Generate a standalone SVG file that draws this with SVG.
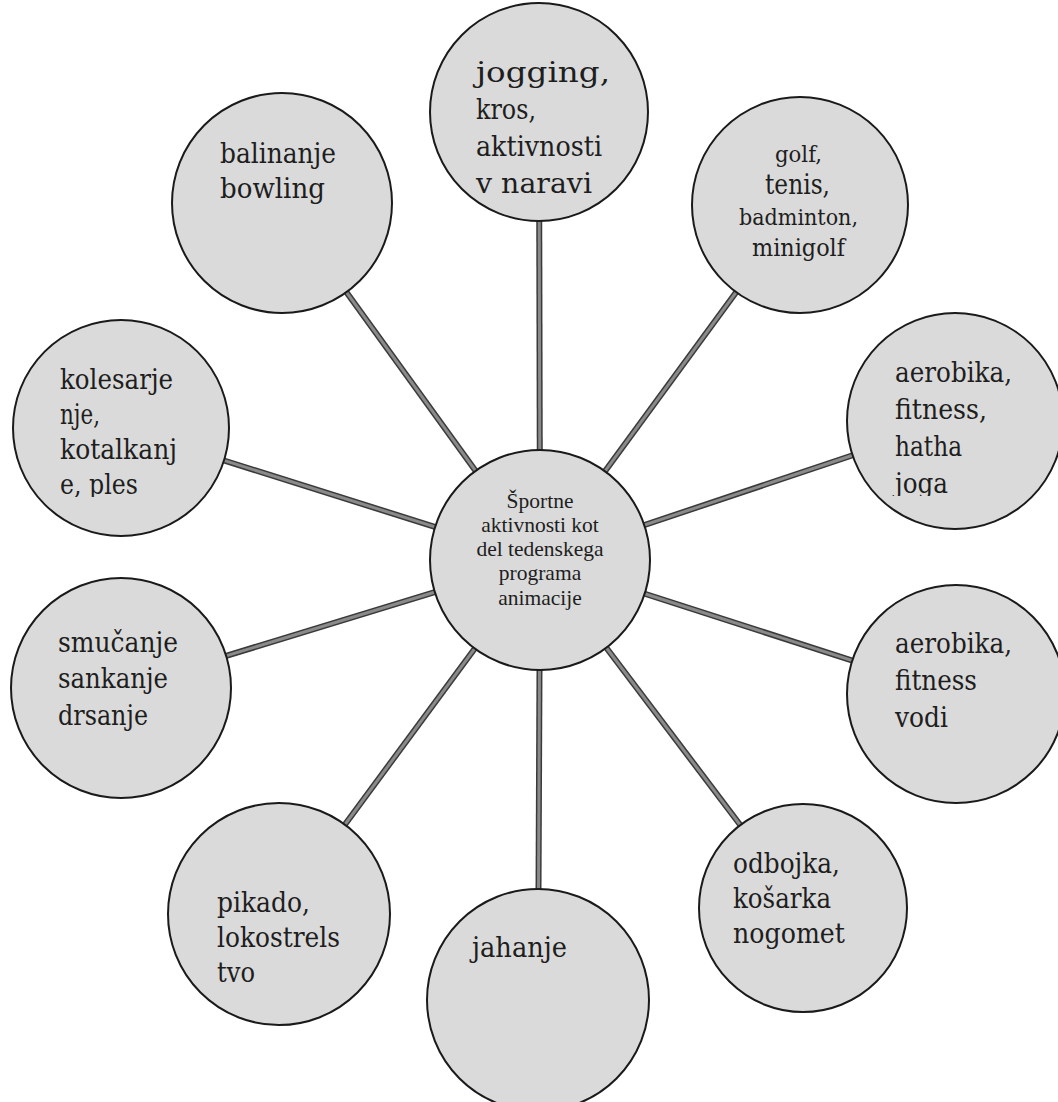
<svg xmlns="http://www.w3.org/2000/svg" width="1058" height="1102" viewBox="0 0 1058 1102">
<style>
  .node circle { fill: #dadada; stroke: #1a1a1a; stroke-width: 2; }
  text { fill: #1e1e1e; }
  .lbl text { font-family: 'DejaVu Serif', 'Liberation Serif', serif; font-size: 27px; }
  .hub text { font-family: 'Liberation Serif', serif; font-size: 21.5px; text-anchor: middle; }
  .c-out { stroke: #3a3a3a; stroke-width: 6; stroke-linecap: butt; }
  .c-in { stroke: #8a8a8a; stroke-width: 3; stroke-linecap: butt; }
</style>
<defs>
  <clipPath id="clipKol"><rect x="0" y="300" width="260" height="197"/></clipPath>
  <clipPath id="clipHatha"><rect x="840" y="300" width="218" height="196"/></clipPath>
</defs>
<rect width="1058" height="1102" fill="#ffffff"/>

<g id="connectors">
  <g class="c-out">
    <line x1="540" y1="560" x2="539" y2="112"/>
    <line x1="540" y1="560" x2="282" y2="203"/>
    <line x1="540" y1="560" x2="800" y2="205"/>
    <line x1="540" y1="560" x2="121" y2="428"/>
    <line x1="540" y1="560" x2="955" y2="421"/>
    <line x1="540" y1="560" x2="121" y2="688"/>
    <line x1="540" y1="560" x2="956" y2="694"/>
    <line x1="540" y1="560" x2="279" y2="914"/>
    <line x1="540" y1="560" x2="538" y2="1000"/>
    <line x1="540" y1="560" x2="803" y2="908"/>
  </g>
  <g class="c-in">
    <line x1="540" y1="560" x2="539" y2="112"/>
    <line x1="540" y1="560" x2="282" y2="203"/>
    <line x1="540" y1="560" x2="800" y2="205"/>
    <line x1="540" y1="560" x2="121" y2="428"/>
    <line x1="540" y1="560" x2="955" y2="421"/>
    <line x1="540" y1="560" x2="121" y2="688"/>
    <line x1="540" y1="560" x2="956" y2="694"/>
    <line x1="540" y1="560" x2="279" y2="914"/>
    <line x1="540" y1="560" x2="538" y2="1000"/>
    <line x1="540" y1="560" x2="803" y2="908"/>
  </g>
</g>

<g id="node-hub" class="node hub">
  <circle cx="540" cy="560" r="110"/>
  <text x="540" y="508">Športne</text>
  <text x="540" y="532">aktivnosti kot</text>
  <text x="540" y="556">del tedenskega</text>
  <text x="540" y="580">programa</text>
  <text x="540" y="605">animacije</text>
</g>

<g id="node-jogging" class="node lbl">
  <circle cx="539" cy="112" r="109"/>
  <text x="476" y="82" textLength="134" lengthAdjust="spacingAndGlyphs">jogging,</text>
  <text x="476" y="119" textLength="60" lengthAdjust="spacingAndGlyphs">kros,</text>
  <text x="476" y="156" textLength="126" lengthAdjust="spacingAndGlyphs">aktivnosti</text>
  <text x="476" y="193" textLength="116" lengthAdjust="spacingAndGlyphs">v naravi</text>
</g>

<g id="node-balinanje" class="node lbl">
  <circle cx="282" cy="203" r="110"/>
  <text x="220" y="163" textLength="116" lengthAdjust="spacingAndGlyphs">balinanje</text>
  <text x="220" y="198" textLength="105" lengthAdjust="spacingAndGlyphs">bowling</text>
</g>

<g id="node-golf" class="node lbl">
  <circle cx="800" cy="205" r="108"/>
  <text x="775" y="162" style="font-size:23px" textLength="47" lengthAdjust="spacingAndGlyphs">golf,</text>
  <text x="765" y="194" style="font-size:27px" textLength="65" lengthAdjust="spacingAndGlyphs">tenis,</text>
  <text x="739" y="225" style="font-size:22px" textLength="119" lengthAdjust="spacingAndGlyphs">badminton,</text>
  <text x="752" y="256" style="font-size:24px" textLength="93" lengthAdjust="spacingAndGlyphs">minigolf</text>
</g>

<g id="node-kolesarjenje" class="node lbl">
  <circle cx="121" cy="428" r="108"/>
  <g clip-path="url(#clipKol)">
    <text x="60" y="389" textLength="113" lengthAdjust="spacingAndGlyphs">kolesarje</text>
    <text x="60" y="424" textLength="40" lengthAdjust="spacingAndGlyphs">nje,</text>
    <text x="60" y="459" textLength="117" lengthAdjust="spacingAndGlyphs">kotalkanj</text>
    <text x="60" y="494" textLength="78" lengthAdjust="spacingAndGlyphs">e, ples</text>
  </g>
</g>

<g id="node-aerobika-hatha" class="node lbl">
  <circle cx="955" cy="421" r="108"/>
  <g clip-path="url(#clipHatha)">
    <text x="895" y="382" textLength="117" lengthAdjust="spacingAndGlyphs">aerobika,</text>
    <text x="895" y="419" textLength="92" lengthAdjust="spacingAndGlyphs">fitness,</text>
    <text x="895" y="456" textLength="67" lengthAdjust="spacingAndGlyphs">hatha</text>
    <text x="895" y="493" textLength="53" lengthAdjust="spacingAndGlyphs">joga</text>
  </g>
</g>

<g id="node-smucanje" class="node lbl">
  <circle cx="121" cy="688" r="110"/>
  <text x="58" y="652" textLength="120" lengthAdjust="spacingAndGlyphs">smučanje</text>
  <text x="58" y="688" textLength="110" lengthAdjust="spacingAndGlyphs">sankanje</text>
  <text x="58" y="725" textLength="90" lengthAdjust="spacingAndGlyphs">drsanje</text>
</g>

<g id="node-aerobika-vodi" class="node lbl">
  <circle cx="956" cy="694" r="109"/>
  <text x="895" y="653" textLength="117" lengthAdjust="spacingAndGlyphs">aerobika,</text>
  <text x="895" y="690" textLength="82" lengthAdjust="spacingAndGlyphs">fitness</text>
  <text x="895" y="727" textLength="53" lengthAdjust="spacingAndGlyphs">vodi</text>
</g>

<g id="node-pikado" class="node lbl">
  <circle cx="279" cy="914" r="111"/>
  <text x="217" y="912" textLength="93" lengthAdjust="spacingAndGlyphs">pikado,</text>
  <text x="217" y="947" textLength="123" lengthAdjust="spacingAndGlyphs">lokostrels</text>
  <text x="217" y="982" textLength="38" lengthAdjust="spacingAndGlyphs">tvo</text>
</g>

<g id="node-jahanje" class="node lbl">
  <circle cx="538" cy="1000" r="111"/>
  <text x="472" y="957" textLength="95" lengthAdjust="spacingAndGlyphs">jahanje</text>
</g>

<g id="node-odbojka" class="node lbl">
  <circle cx="803" cy="908" r="104"/>
  <text x="733" y="873" textLength="107" lengthAdjust="spacingAndGlyphs">odbojka,</text>
  <text x="733" y="908" textLength="98" lengthAdjust="spacingAndGlyphs">košarka</text>
  <text x="733" y="943" textLength="112" lengthAdjust="spacingAndGlyphs">nogomet</text>
</g>
</svg>
